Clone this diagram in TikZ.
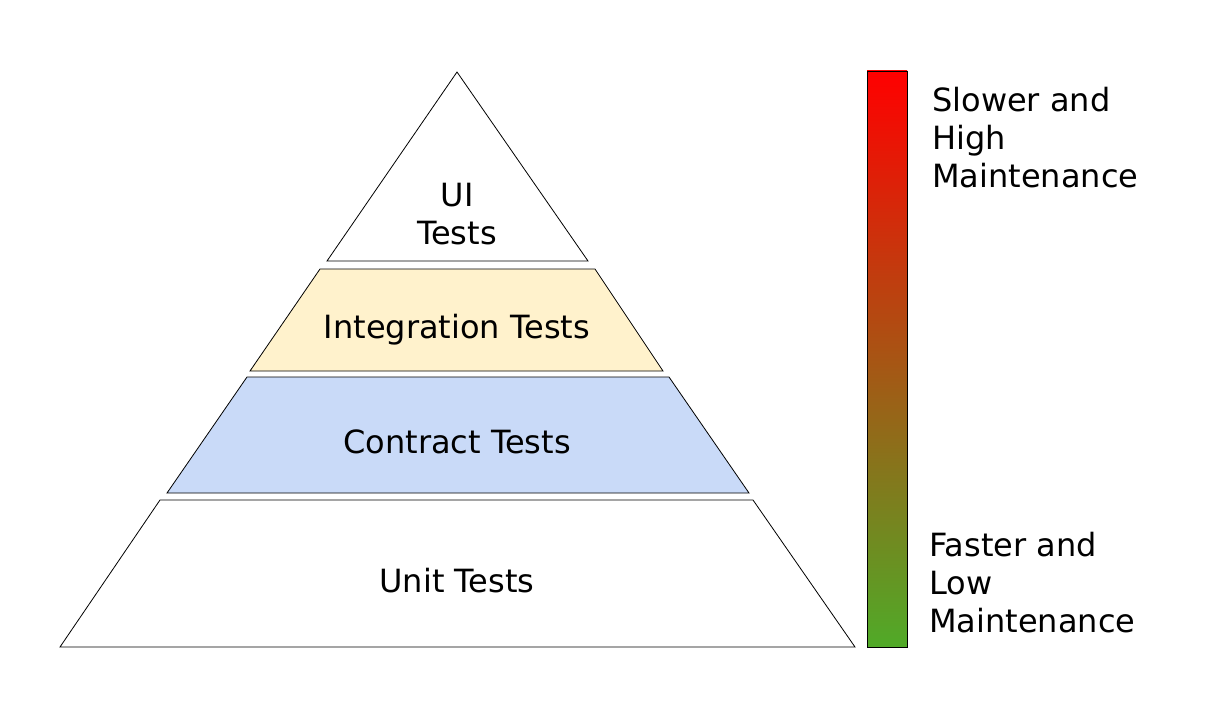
\documentclass[tikz,border=0pt]{standalone}
\usepackage{fontspec}
\setmainfont{DejaVu Sans}
\usepackage{tikz}
\usetikzlibrary{positioning}
\usepackage{xcolor}
\definecolor{integyellow}{RGB}{255,242,204}
\definecolor{contractblue}{RGB}{201,218,248}
\definecolor{slowred}{RGB}{255,0,0}
\definecolor{fastgreen}{RGB}{80,170,40}

\begin{document}
\begin{tikzpicture}[x=0.75pt, y=0.75pt,
    every node/.style={font=\fontsize{24}{28.5}\selectfont, inner sep=0pt},
    layer/.style={draw=black, line width=0.6pt, line join=miter}]
        \useasboundingbox (0,0) rectangle (1226,719);

        % top of the pyramid
        \draw[layer,fill=white] (457,647) -- (588,458) -- (327,458) -- cycle;
        \node[align=center] (ui) at (457,505) {UI\\Tests};

        % middle layers
        \draw[layer,fill=integyellow] (320,450) -- (595,450) -- (663,348) -- (250,348) -- cycle;
        \node (integ) at (457,389) {Integration Tests};
        \draw[layer,fill=contractblue] (247,342) -- (669,342) -- (749,226) -- (167,226) -- cycle;
        \node (contract) at (457,277) {Contract Tests};

        % base of the pyramid
        \draw[layer,fill=white] (160,219) -- (753,219) -- (855,72) -- (60,72) -- cycle;
        \node (unit) at (457,138) {Unit Tests};

        % cost scale on the right
        \draw[line width=0.6pt,top color=slowred,bottom color=fastgreen] (867,648) rectangle (907,72);
        \node[align=left,anchor=north west] (slow) at (932,632) {Slower and\\High\\Maintenance};
        \node[align=left,anchor=north west] (fast) at (929,187) {Faster and\\Low\\Maintenance};
      \end{tikzpicture}
\end{document}
